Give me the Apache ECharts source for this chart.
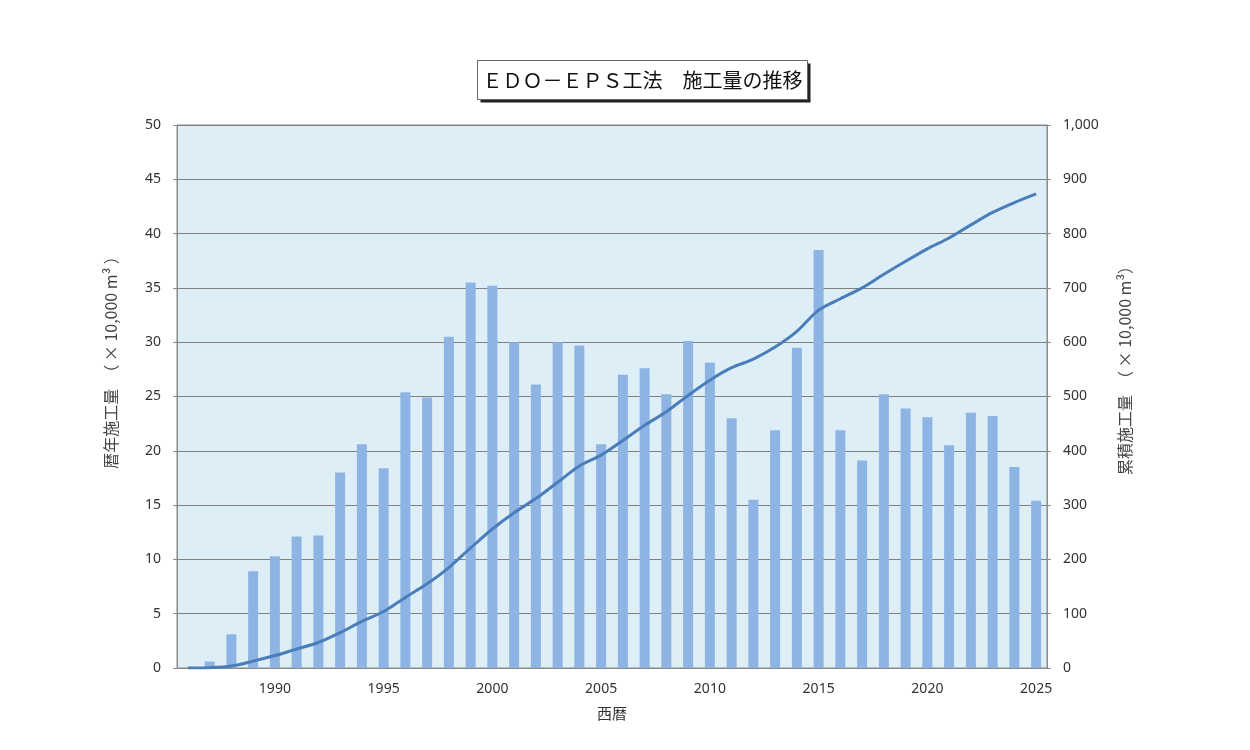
<!DOCTYPE html>
<html>
<head>
<meta charset="utf-8">
<script src="https://cdn.jsdelivr.net/npm/echarts@6/dist/echarts.min.js"></script>
<style>
html,body{margin:0;padding:0;background:#fff;}
#c{width:1250px;height:750px;}
</style>
</head>
<body>
<div id="c"></div>
<script>
const years = ['1986','1987','1988','1989','1990','1991','1992','1993','1994','1995',
  '1996','1997','1998','1999','2000','2001','2002','2003','2004','2005',
  '2006','2007','2008','2009','2010','2011','2012','2013','2014','2015',
  '2016','2017','2018','2019','2020','2021','2022','2023','2024','2025'];
const annual = [0, 0.6, 3.1, 8.9, 10.3, 12.1, 12.2, 18.0, 20.6, 18.4,
  25.4, 24.9, 30.5, 35.5, 35.2, 30.0, 26.1, 30.0, 29.7, 20.6,
  27.0, 27.6, 25.2, 30.1, 28.1, 23.0, 15.5, 21.9, 29.5, 38.5,
  21.9, 19.1, 25.2, 23.9, 23.1, 20.5, 23.5, 23.2, 18.5, 15.4];
const cumulative = [0, 0.6, 3.7, 12.6, 22.9, 35, 47, 65, 86, 104,
  130, 155, 185, 221, 256, 286, 312, 342, 372, 392,
  419, 447, 472, 502, 530, 553, 569, 591, 620, 659,
  680, 700, 725, 749, 772, 792, 816, 839, 857, 873];
const titleText = 'ＥＤＯ－ＥＰＳ工法　施工量の推移';
const leftName = '暦年施工量　（ × 10,000 m³ ）';
const rightName = '累積施工量　（ × 10,000 m³）';
const xName = '西暦';

const chart = echarts.init(document.getElementById('c'));
const labelFont = {fontFamily: 'Noto Sans', fontSize: 14, color: '#333'};
const nameFont = {fontFamily: 'Noto Sans CJK JP', fontSize: 16, color: '#444'};
chart.setOption({
  animation: false,
  backgroundColor: '#fff',
  graphic: [{
    type: 'group',
    left: 477, top: 60,
    children: [{
      type: 'rect',
      shape: {x: 3, y: 3, width: 330, height: 39},
      style: {fill: '#222'}
    }, {
      type: 'rect',
      shape: {x: 0, y: 0, width: 330, height: 39},
      style: {fill: '#fff', stroke: '#666', lineWidth: 1}
    }, {
      type: 'text',
      x: 165, y: 20,
      style: {
        text: titleText,
        align: 'center', verticalAlign: 'middle',
        font: 'normal 20px "Noto Sans CJK JP"',
        fill: '#111'
      }
    }]
  }],
  grid: {
    left: 177, right: 203, top: 125, bottom: 82,
    show: true, backgroundColor: '#DDEEF6', borderColor: '#8a8a8a', borderWidth: 1,
    containLabel: false
  },
  xAxis: {
    type: 'category',
    data: years,
    boundaryGap: true,
    name: xName,
    nameLocation: 'middle',
    nameGap: 38,
    nameTextStyle: {fontFamily: 'Noto Sans CJK JP', fontSize: 15, color: '#333'},
    axisLine: {lineStyle: {color: '#8a8a8a'}},
    axisTick: {show: false},
    axisLabel: Object.assign({
      interval: 0,
      margin: 14,
      formatter: function (v) { return (+v % 5 === 0) ? v : ''; }
    }, labelFont),
    splitLine: {show: false}
  },
  yAxis: [{
    type: 'value', min: 0, max: 50, interval: 5,
    name: leftName,
    nameLocation: 'middle', nameGap: 58, nameRotate: 90,
    nameTextStyle: Object.assign({padding: [0, 0, 0, 76]}, nameFont),
    axisLine: {show: true, lineStyle: {color: '#8a8a8a'}},
    axisTick: {show: true, length: 4, lineStyle: {color: '#8a8a8a'}},
    axisLabel: Object.assign({margin: 16}, labelFont),
    splitLine: {show: true, lineStyle: {color: '#808080', width: 1}}
  }, {
    type: 'value', min: 0, max: 1000, interval: 100,
    name: rightName,
    nameLocation: 'middle', nameGap: 70, nameRotate: 90,
    nameTextStyle: Object.assign({padding: [0, 0, 0, 60]}, nameFont),
    axisLine: {show: true, lineStyle: {color: '#8a8a8a'}},
    axisTick: {show: true, length: 4, lineStyle: {color: '#8a8a8a'}},
    axisLabel: Object.assign({
      margin: 16,
      formatter: function (v) { return String(v).replace(/\B(?=(\d{3})+(?!\d))/g, ','); }
    }, labelFont),
    splitLine: {show: false}
  }],
  series: [{
    type: 'bar',
    data: annual,
    yAxisIndex: 0,
    barWidth: 10,
    itemStyle: {color: '#8EB4E3'}
  }, {
    type: 'line',
    data: cumulative,
    yAxisIndex: 1,
    showSymbol: false,
    smooth: 0.3,
    lineStyle: {color: '#4A7EBB', width: 3}
  }]
});
</script>
</body>
</html>
